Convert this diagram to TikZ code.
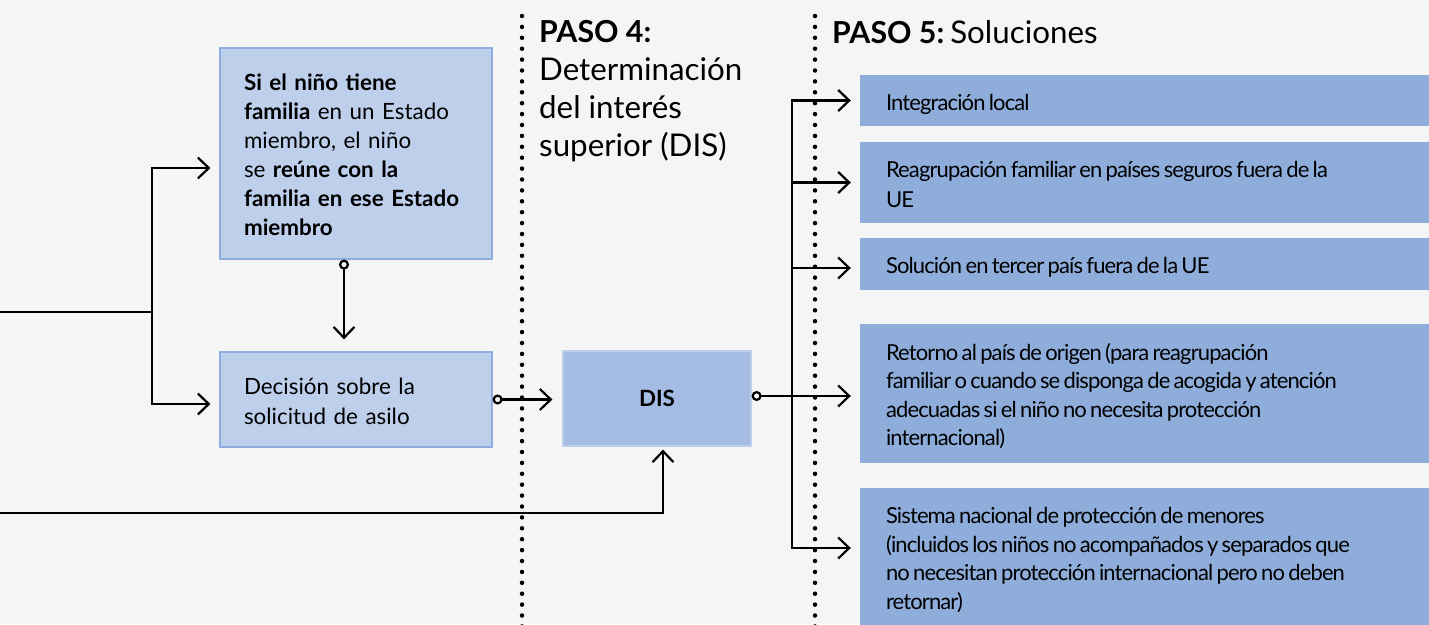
\documentclass[tikz,border=0pt]{standalone}
\usepackage{fontspec}
\setmainfont{Lato}
\newfontfamily\solfont[LetterSpace=-4.0]{Lato}
\usetikzlibrary{arrows.meta}
\definecolor{paper}{HTML}{F5F5F5}
\definecolor{famfill}{HTML}{BDCFEB}
\definecolor{famedge}{HTML}{8FAEDF}
\definecolor{disfill}{HTML}{A5BDE4}
\definecolor{solfill}{HTML}{8EADDB}
\newcommand\linestrut{\rule[-5pt]{0pt}{29pt}}
\newcommand\solstart{\spaceskip=3.3pt plus 1pt minus 1pt\relax\linestrut}
\newcommand\stepbold[1]{{\fontsize{30.3}{37.7}\selectfont\bfseries #1}}
\tikzset{
  >={Straight Barb[length=11pt,width=21pt]},
  ringtip/.tip={Circle[open,length=10pt,width=10pt]},
  famcell/.style={rectangle, draw=famedge, line width=1.2pt, fill=famfill, inner xsep=24pt, inner ysep=0pt,
    minimum width=272, text width=224, align=left, font=\fontsize{22.4}{28.9}\selectfont,
    execute at begin node=\linestrut, execute at end node=\linestrut},
  discell/.style={rectangle, draw=famfill, line width=1.2pt, fill=disfill, minimum width=188, minimum height=95,
    font=\fontsize{22.4}{28.9}\selectfont\bfseries},
  solcell/.style={rectangle, fill=solfill, inner xsep=26pt, inner ysep=0pt, minimum width=580, text width=528,
    align=left, font=\solfont\fontsize{22}{28.5}\selectfont,
    execute at begin node=\solstart, execute at end node=\linestrut},
  head/.style={align=left, inner sep=0pt, font=\fontsize{31.3}{37.7}\selectfont},
  link/.style={line width=2.2pt},
  sep/.style={line width=4.5pt, line cap=round, dash pattern=on 0pt off 10.9pt}
}

\begin{document}
\begin{tikzpicture}[x=1pt,y=-1pt]
  \fill[paper] (0,0) rectangle (1429,624);
  \useasboundingbox (0,0) rectangle (1429,624);

  \draw[sep] (522,16) -- (522,630);
  \draw[sep] (815,16) -- (815,630);

  \node[famcell, minimum height=211] (fam) at (356,153.5)
    {{\bfseries Si el niño tiene}\\{\bfseries familia} en un Estado\\miembro, el niño\\se {\bfseries reúne con la}\\{\bfseries familia en ese Estado}\\{\bfseries miembro}};
  \node[famcell, minimum height=95] (dec) at (356,399.5) {Decisión sobre la\\solicitud de asilo};
  \node[discell] (dis) at (657,398.5) {DIS};

  \node[head, anchor=base west] (paso4) at (539,156)
    {\stepbold{PASO 4:}\\Determinación\\del interés\\superior (DIS)};
  \node[head, anchor=base west] (paso5) at (832,43) {\stepbold{PASO 5:}\hspace{6pt}Soluciones};

  \node[solcell, minimum height=51] (sol1) at (1150,100.5) {Integración local};
  \node[solcell, minimum height=81] (sol2) at (1150,182.5) {Reagrupación familiar en países seguros fuera de la\\UE};
  \node[solcell, minimum height=52] (sol3) at (1150,264) {Solución en tercer país fuera de la UE};
  \node[solcell, minimum height=139] (sol4) at (1150,393.5)
    {Retorno al país de origen (para reagrupación\\familiar o cuando se disponga de acogida y atención\\adecuadas si el niño no necesita protección\\internacional)};
  \node[solcell, minimum height=138] (sol5) at (1150,557)
    {Sistema nacional de protección de menores\\(incluidos los niños no acompañados y separados que\\no necesitan protección internacional pero no deben\\retornar)};

  \coordinate (srcA) at (0,312);
  \coordinate (srcB) at (0,513);
  \coordinate (fork) at (152,312);
  \coordinate (disout) at ([yshift=2.5pt]dis.east);
  \coordinate (trunk) at (792,396);

  \draw[link] (srcA) -- (fork);
  \draw[link,->, shorten >=9pt] (fork) |- ([yshift=-14.5pt]fam.west);
  \draw[link,->, shorten >=9pt] (fork) |- ([yshift=-4.5pt]dec.west);
  \draw[link,ringtip->, shorten >=12pt] ([xshift=-12pt]fam.south) -- ([xshift=-12pt]dec.north);
  \draw[link,ringtip->, shorten >=10pt] (dec.east) -- (dec.east -| dis.west);
  \draw[link,->, shorten >=3pt] (srcB) -| ([xshift=6pt]dis.south);
  \draw[link,ringtip->, shorten >=9pt] (disout) -- (disout -| sol4.west);
  \draw[link,->, shorten >=9pt] (trunk) |- (sol1.west);
  \draw[link,->, shorten >=9pt] (trunk) |- (sol2.west);
  \draw[link,->, shorten >=9pt] (trunk) |- ([yshift=-4pt]sol3.west);
  \draw[link,->, shorten >=9pt] (trunk) |- ([yshift=9pt]sol5.west);
\end{tikzpicture}
\end{document}
